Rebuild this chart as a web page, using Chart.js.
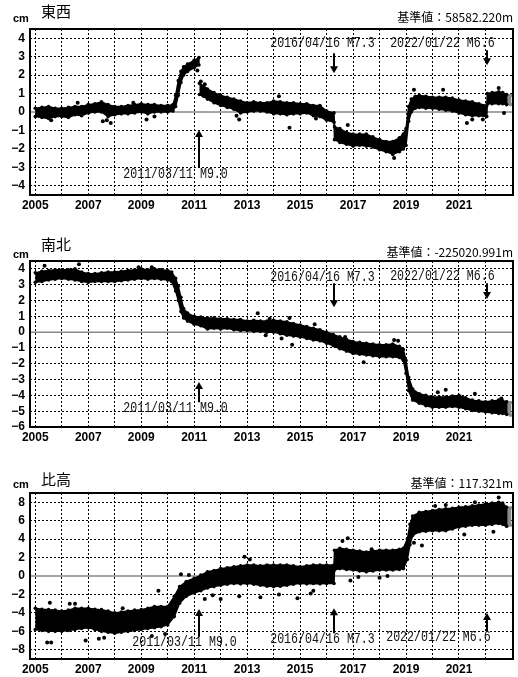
<!DOCTYPE html>
<html><head><meta charset="utf-8">
<script src="https://cdn.jsdelivr.net/npm/chart.js@4.4.0/dist/chart.umd.min.js"></script>
<style>
html,body{margin:0;padding:0;background:#fff;}
body{width:518px;height:677px;position:relative;overflow:hidden;}
canvas{position:absolute;left:0;}
</style></head><body>
<canvas id="c0" width="518" height="213" style="top:0px;width:518px;height:213px"></canvas>
<canvas id="c1" width="518" height="213" style="top:232px;width:518px;height:213px"></canvas>
<canvas id="c2" width="518" height="213" style="top:464px;width:518px;height:213px"></canvas>
<script>
// ---------- tick labels ----------
const YEAR_TICKS = [2005,2006,2007,2008,2009,2010,2011,2012,2013,2014,2015,2016,2017,2018,2019,2020,2021,2022];
const EW_YTICKS = [-4,-3,-2,-1,0,1,2,3,4];
const NS_YTICKS = [-6,-5,-4,-3,-2,-1,0,1,2,3,4];
const UD_YTICKS = [-8,-6,-4,-2,0,2,4,6,8];

// ---------- events ----------
const EVENT_LABEL = ['2011/03/11 M9.0','2016/04/16 M7.3','2022/01/22 M6.6'];
const EVENT_X = [2011.19, 2016.29, 2022.06];

// ---------- 東西 (EW) : band (lower / upper envelope of daily points), cm ----------
const EW_T  = [2005.0,2005.25,2005.5,2005.75,2006.0,2006.25,2006.5,2006.75,2007.0,2007.25,2007.5,2007.75,2008.0,2008.25,2008.5,2008.75,2009.0,2009.25,2009.5,2009.75,2010.0,2010.2,2010.3,2010.4,2010.5,2010.6,2010.75,2011.0,2011.18,2011.19,2011.2,2011.35,2011.5,2011.75,2012.0,2012.25,2012.5,2012.75,2013.0,2013.25,2013.5,2013.75,2014.0,2014.25,2014.5,2014.75,2015.0,2015.25,2015.5,2015.75,2016.0,2016.28,2016.3,2016.5,2016.75,2017.0,2017.25,2017.5,2017.75,2018.0,2018.25,2018.5,2018.75,2018.9,2019.0,2019.1,2019.2,2019.35,2019.5,2019.75,2020.0,2020.25,2020.5,2020.75,2021.0,2021.25,2021.5,2021.75,2022.05,2022.07,2022.25,2022.5,2022.65,2022.8,2022.95];
const EW_LO = [-0.25,-0.3,-0.35,-0.25,-0.25,-0.3,-0.15,-0.2,-0.05,0.0,0.0,-0.25,-0.15,-0.1,-0.1,-0.05,0.0,-0.1,0.0,0.0,0.0,0.05,0.3,0.9,1.6,2.0,2.2,2.4,2.55,null,0.95,0.85,0.7,0.5,0.35,0.25,0.15,-0.05,0.0,0.05,0.05,0.0,-0.1,-0.1,-0.15,-0.1,-0.1,-0.05,-0.2,-0.25,-0.45,-0.55,-1.5,-1.65,-1.75,-1.85,-1.8,-1.85,-1.9,-2.05,-2.15,-2.3,-2.15,-2.0,-1.8,-0.5,0.0,0.2,0.25,0.2,0.2,0.15,0.1,0.05,-0.05,-0.15,-0.2,-0.2,-0.25,0.45,0.45,0.45,0.45,0.4,0.4];
const EW_HI = [0.2,0.25,0.3,0.2,0.2,0.25,0.3,0.3,0.4,0.45,0.55,0.4,0.3,0.3,0.35,0.4,0.45,0.4,0.4,0.35,0.35,0.4,0.9,1.7,2.2,2.45,2.6,2.8,2.95,null,1.55,1.4,1.25,1.05,0.9,0.8,0.7,0.6,0.5,0.55,0.5,0.5,0.6,0.55,0.5,0.5,0.45,0.45,0.35,0.35,0.05,-0.05,-0.8,-0.9,-1.1,-1.2,-1.2,-1.2,-1.35,-1.5,-1.6,-1.6,-1.4,-1.2,-0.9,0.3,0.7,0.85,0.9,0.85,0.8,0.8,0.8,0.75,0.65,0.6,0.55,0.45,0.35,1.0,1.05,1.1,1.05,0.95,0.9];
const EW_OUT = [[2005.6,-0.45],[2006.6,0.5],[2007.55,-0.5],[2007.85,-0.6],[2007.7,-0.45],[2008.7,0.5],[2009.2,-0.4],[2009.5,-0.25],[2011.12,2.25],[2011.25,1.65],[2011.4,1.5],[2012.7,-0.4],[2012.6,-0.2],[2014.2,0.85],[2014.6,-0.85],[2015.6,-0.35],[2016.8,-0.7],[2018.55,-2.5],[2019.3,1.2],[2020.4,1.2],[2021.3,-0.6],[2021.5,-0.4],[2021.9,-0.4],[2022.5,1.3],[2022.7,-0.05]];

// ---------- 南北 (NS) ----------
const NS_T  = [2005.0,2005.25,2005.5,2005.75,2006.0,2006.25,2006.5,2006.75,2007.0,2007.25,2007.5,2007.75,2008.0,2008.25,2008.5,2008.75,2009.0,2009.25,2009.5,2009.75,2010.0,2010.15,2010.3,2010.4,2010.5,2010.6,2010.75,2011.0,2011.25,2011.5,2011.75,2012.0,2012.25,2012.5,2012.75,2013.0,2013.25,2013.5,2013.75,2014.0,2014.25,2014.5,2014.75,2015.0,2015.25,2015.5,2015.75,2016.0,2016.25,2016.5,2016.75,2017.0,2017.25,2017.5,2017.75,2018.0,2018.25,2018.5,2018.75,2018.9,2019.0,2019.1,2019.25,2019.5,2019.75,2020.0,2020.25,2020.5,2020.75,2021.0,2021.25,2021.5,2021.75,2022.0,2022.25,2022.5,2022.65,2022.8,2022.95];
const NS_LO = [3.15,3.2,3.3,3.35,3.4,3.35,3.3,3.2,3.15,3.2,3.2,3.2,3.2,3.25,3.3,3.35,3.4,3.35,3.4,3.35,3.3,3.2,2.6,2.0,1.3,0.9,0.7,0.5,0.4,0.2,0.25,0.2,0.25,0.15,0.1,0.1,0.05,0.05,0.0,0.0,-0.1,-0.2,-0.25,-0.3,-0.4,-0.5,-0.55,-0.7,-0.85,-1.05,-1.2,-1.35,-1.4,-1.45,-1.5,-1.55,-1.55,-1.55,-1.6,-1.8,-2.6,-3.7,-4.3,-4.5,-4.65,-4.75,-4.75,-4.75,-4.7,-4.75,-4.85,-4.95,-5.0,-5.05,-5.1,-5.15,-5.15,-5.2,-5.25];
const NS_HI = [3.75,3.85,3.9,3.95,3.95,3.95,4.0,3.8,3.7,3.7,3.75,3.8,3.8,3.85,3.9,3.95,4.0,3.95,4.0,3.95,3.9,3.8,3.4,2.9,2.2,1.5,1.2,1.0,0.95,0.9,0.9,0.85,0.85,0.8,0.8,0.7,0.75,0.7,0.7,0.75,0.7,0.65,0.55,0.45,0.35,0.25,0.15,0.0,-0.15,-0.3,-0.45,-0.6,-0.65,-0.7,-0.75,-0.8,-0.8,-0.75,-0.9,-1.1,-1.8,-2.85,-3.6,-3.9,-4.0,-4.1,-4.1,-4.1,-4.05,-4.0,-4.15,-4.3,-4.35,-4.4,-4.35,-4.3,-4.35,-4.4,-4.45];
const NS_OUT = [[2005.35,4.2],[2006.65,4.3],[2009.4,4.1],[2008.9,4.1],[2013.4,1.2],[2013.85,0.85],[2013.7,-0.2],[2014.3,-0.4],[2014.6,0.9],[2014.7,-0.8],[2015.55,0.5],[2016.7,-0.3],[2016.9,-0.6],[2017.4,-1.9],[2018.55,-0.5],[2018.7,-0.55],[2020.5,-3.65],[2020.2,-3.8],[2021.6,-3.9],[2022.6,-4.2]];

// ---------- 比高 (UD) ----------
const UD_T  = [2005.0,2005.25,2005.5,2005.75,2006.0,2006.25,2006.5,2006.75,2007.0,2007.25,2007.5,2007.75,2008.0,2008.25,2008.5,2008.75,2009.0,2009.25,2009.5,2009.75,2010.0,2010.25,2010.45,2010.7,2011.0,2011.25,2011.5,2011.75,2012.0,2012.25,2012.5,2012.75,2013.0,2013.25,2013.5,2013.75,2014.0,2014.25,2014.5,2014.75,2015.0,2015.25,2015.5,2015.75,2016.0,2016.28,2016.3,2016.5,2016.75,2017.0,2017.25,2017.5,2017.75,2018.0,2018.25,2018.5,2018.75,2018.9,2019.05,2019.15,2019.25,2019.5,2019.75,2020.0,2020.25,2020.5,2020.75,2021.0,2021.25,2021.5,2021.75,2022.0,2022.25,2022.5,2022.65,2022.8,2022.95];
const UD_LO = [-5.8,-5.9,-6.0,-6.0,-6.0,-5.9,-5.8,-5.7,-5.6,-5.8,-6.0,-6.1,-6.2,-6.1,-6.0,-5.9,-5.8,-5.7,-5.6,-5.5,-5.3,-4.4,-2.95,-2.2,-1.85,-1.6,-1.3,-1.15,-1.0,-0.9,-0.8,-0.85,-0.8,-0.9,-1.0,-1.1,-1.15,-1.1,-1.0,-0.9,-0.8,-0.85,-0.8,-0.85,-0.8,-0.8,0.65,0.8,0.7,0.65,0.55,0.45,0.55,0.65,0.65,0.65,0.7,0.8,1.8,3.4,4.4,4.8,4.85,4.9,4.9,4.9,5.1,5.3,5.4,5.5,5.5,5.5,5.6,5.7,5.6,5.4,5.5];
const UD_HI = [-3.5,-3.6,-3.65,-3.7,-3.8,-3.7,-3.5,-3.5,-3.5,-3.6,-3.65,-3.8,-4.0,-3.9,-3.8,-3.7,-3.65,-3.5,-3.3,-3.3,-3.3,-2.2,-1.15,-0.6,-0.25,0.1,0.45,0.6,0.8,0.9,1.0,1.1,1.2,1.2,1.1,1.2,1.2,1.2,1.2,1.1,1.0,1.1,1.2,1.2,1.2,1.2,2.8,3.0,2.9,2.8,2.7,2.6,2.7,2.8,2.8,2.8,2.9,3.0,4.0,5.6,6.5,6.9,7.0,7.1,7.2,7.3,7.35,7.45,7.5,7.6,7.7,7.8,7.9,8.0,7.9,7.45,7.4];
const UD_OUT = [[2005.45,-7.2],[2005.6,-7.2],[2005.55,-2.9],[2006.3,-3.0],[2006.5,-3.0],[2006.9,-7.0],[2007.4,-6.8],[2007.6,-6.7],[2008.3,-3.5],[2009.4,-6.5],[2009.65,-1.6],[2009.9,-6.3],[2010.5,0.2],[2010.8,0.1],[2011.4,-2.5],[2011.7,-2.1],[2012.0,-2.5],[2012.7,-2.2],[2012.9,2.1],[2013.1,1.8],[2013.5,-2.3],[2014.2,-2.0],[2014.9,-2.4],[2015.4,-1.9],[2015.5,-1.6],[2016.6,3.8],[2016.8,4.1],[2016.9,-0.5],[2017.2,-0.1],[2017.7,2.9],[2018.0,-0.2],[2018.3,0.0],[2019.6,3.3],[2019.3,3.6],[2020.5,7.7],[2020.1,7.6],[2021.2,4.5],[2021.6,8.0],[2022.5,8.5],[2022.3,4.8]];

const GREY_FROM = 2022.8;

const PANELS = [
  {id:'c0', T:EW_T, LO:EW_LO, HI:EW_HI, OUT:EW_OUT, ymin:-4.5, ymax:4.5, yticks:EW_YTICKS,
   title:'東西', ref:'基準値：58582.220m', titleY:11.5, cmY:19, refY:17,
   notes:[{e:0,tx:2008.32,ty:-3.4,tip:-0.97,tail:-3.03},{e:1,tx:2013.87,ty:3.73,tip:2.1,tail:3.19},{e:2,tx:2018.4,ty:3.73,tip:2.54,tail:3.35}]},
  {id:'c1', T:NS_T, LO:NS_LO, HI:NS_HI, OUT:NS_OUT, ymin:-6, ymax:4.5, yticks:NS_YTICKS,
   title:'南北', ref:'基準値：-225020.991m', titleY:12.5, cmY:23, refY:20,
   notes:[{e:0,tx:2008.32,ty:-4.8,tip:-3.16,tail:-4.43},{e:1,tx:2013.87,ty:3.48,tip:1.58,tail:3.1},{e:2,tx:2018.4,ty:3.55,tip:2.09,tail:3.1}]},
  {id:'c2', T:UD_T, LO:UD_LO, HI:UD_HI, OUT:UD_OUT, ymin:-9, ymax:9, yticks:UD_YTICKS,
   title:'比高', ref:'基準値：117.321m', titleY:15, cmY:21, refY:19,
   notes:[{e:0,tx:2008.66,ty:-7.24,tip:-3.57,tail:-6.6},{e:1,tx:2013.87,ty:-6.9,tip:-3.5,tail:-6.2},{e:2,tx:2018.25,ty:-6.7,tip:-4.0,tail:-6.05}]}
];

const NUMFONT = '"Liberation Sans Narrow", "Liberation Sans", Arial, sans-serif';

const deco = {
  id:'deco',
  beforeDatasetsDraw(chart, args, o){
    const {ctx, chartArea:a, scales:{y}} = chart;
    const py = y.getPixelForValue(0);
    ctx.save(); ctx.strokeStyle='#888'; ctx.lineWidth=1.5;
    ctx.beginPath(); ctx.moveTo(a.left,py); ctx.lineTo(a.right,py); ctx.stroke(); ctx.restore();
  },
  afterDraw(chart, args, o){
    const {ctx, chartArea:a, scales:{x,y}} = chart;
    ctx.save();
    ctx.strokeStyle='#000'; ctx.lineWidth=2;
    ctx.strokeRect(a.left, a.top, a.right-a.left, a.bottom-a.top);
    ctx.fillStyle='#000'; ctx.textBaseline='middle';
    ctx.font='15px "Noto Sans CJK JP"'; ctx.textAlign='left';
    ctx.fillText(o.title, 41, o.titleY);
    ctx.font='bold 11px '+NUMFONT; ctx.fillText('cm', 13, o.cmY);
    ctx.font='12px "Noto Sans CJK JP"'; ctx.textAlign='right';
    ctx.fillText(o.ref, 513, o.refY);
    o.notes.forEach(n=>{
      const ex = Math.round(x.getPixelForValue(EVENT_X[n.e]));
      const t = y.getPixelForValue(n.tip), b = y.getPixelForValue(n.tail);
      const dir = t < b ? 1 : -1;
      ctx.lineWidth=2; ctx.strokeStyle='#000'; ctx.fillStyle='#000';
      ctx.beginPath(); ctx.moveTo(ex,b); ctx.lineTo(ex,t+dir*3); ctx.stroke();
      ctx.beginPath(); ctx.moveTo(ex-4,t+dir*7); ctx.lineTo(ex,t); ctx.lineTo(ex+4,t+dir*7); ctx.closePath(); ctx.fill();
      ctx.save();
      ctx.font='14px "Liberation Mono", monospace'; ctx.textAlign='left'; ctx.textBaseline='middle';
      ctx.translate(x.getPixelForValue(n.tx), y.getPixelForValue(n.ty)); ctx.scale(0.83,1);
      ctx.fillStyle='#111';
      ctx.fillText(EVENT_LABEL[n.e],0,0);
      ctx.restore();
    });
    ctx.restore();
  }
};

// closed band outlines: upper envelope forward, lower envelope backward (split at gaps)
function bandPolys(T, LO, HI, keep){
  const out = []; let run = [];
  const flush = () => {
    if (run.length > 1) {
      out.push(run.map(i=>({x:T[i], y:HI[i]})).concat(run.slice().reverse().map(i=>({x:T[i], y:LO[i]}))));
    }
    run = [];
  };
  T.forEach((t,i)=>{ if (HI[i]===null || LO[i]===null || !keep(t)) flush(); else run.push(i); });
  flush();
  return out;
}

PANELS.forEach(P=>{
  const sets = [
    {type:'scatter', data: P.OUT.map(p=>({x:p[0], y:p[1]})), pointRadius: 2, pointBorderWidth: 0,
     pointBackgroundColor:'#000', showLine:false}
  ];
  const addBands = (keep, col) => bandPolys(P.T, P.LO, P.HI, keep).forEach(poly=>sets.push({
    data: poly, borderColor: col, backgroundColor: col, borderWidth: 1.5, borderJoinStyle: 'round',
    pointRadius: 1.8, pointBorderWidth: 0, pointBackgroundColor: col, fill: 'shape', tension: 0
  }));
  addBands(t => t <= GREY_FROM, '#000');
  addBands(t => t >= GREY_FROM, '#8c8c8c');

  new Chart(document.getElementById(P.id), {
    type: 'line',
    data: { datasets: sets },
    options: {
      responsive: false, animation: false, devicePixelRatio: 1,
      layout: { padding: { top: 29, left: 0, right: 5, bottom: 0 } },
      plugins: { legend: {display:false}, tooltip: {enabled:false}, deco: P },
      scales: {
        x: { type:'linear', min: 2004.8, max: 2023.04,
          afterBuildTicks: s => { s.ticks = YEAR_TICKS.map(v=>({value:v})); },
          afterFit: s => { s.height = 18; },
          ticks: { autoSkip:false, maxRotation:0, padding: 3, color:'#000',
            font: { family: NUMFONT, size: 12, weight: 'bold' },
            callback: v => (v % 2 === 1) ? String(v) : '' },
          grid: { color:'#000', lineWidth: 1, drawTicks:false },
          border: { display:false, dash:[2,2] }
        },
        y: { type:'linear', min: P.ymin, max: P.ymax,
          afterBuildTicks: s => { s.ticks = P.yticks.map(v=>({value:v})); },
          afterFit: s => { s.width = 30; },
          ticks: { autoSkip:false, padding: 5, color:'#000',
            font: { family: NUMFONT, size: 12, weight: 'bold' },
            callback: v => v < 0 ? '\u2212' + Math.abs(v) : String(v) },
          grid: { color: c => (c.tick && c.tick.value === 0) ? 'rgba(0,0,0,0)' : '#000', lineWidth: 1, drawTicks:false },
          border: { display:false, dash:[2,2] }
        }
      }
    },
    plugins: [deco]
  });
});
</script>
</body></html>
